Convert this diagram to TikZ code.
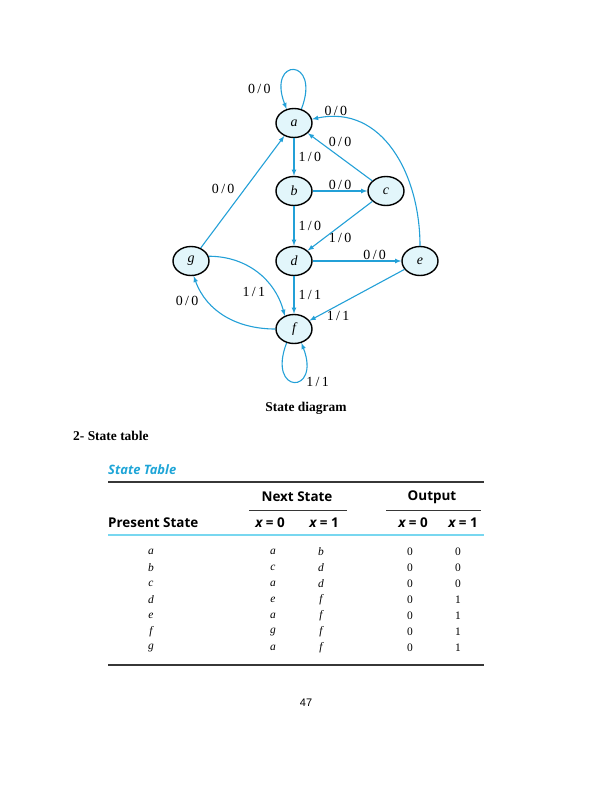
\documentclass[tikz,border=0pt]{standalone}
\usepackage{fontspec}
\setmainfont{Liberation Serif}
\setsansfont{Open Sans}
\newfontfamily\pagenumfont{Liberation Sans}
\usetikzlibrary{shapes.geometric}
\definecolor{edgeblue}{RGB}{35,160,215}
\definecolor{statefill}{RGB}{226,246,251}
\definecolor{rulegray}{RGB}{55,55,55}
\definecolor{rulecyan}{RGB}{120,215,240}
\definecolor{titleblue}{RGB}{30,165,215}

\begin{document}
\begin{tikzpicture}[x=1bp,y=1bp,>=latex]
\tikzset{
  state/.style={draw,line width=1.4bp,shape=ellipse,fill=statefill,minimum width=36bp,minimum height=29bp,inner sep=0pt,font=\fontsize{14}{16}\selectfont\itshape},
  trans/.style={->,draw=edgeblue,line width=1.1bp},
  lbl/.style={font=\fontsize{14}{16}\selectfont,text=black,inner sep=1pt},
  cell/.style={font=\fontsize{11.5}{13}\selectfont,inner sep=0pt},
  head/.style={font=\sffamily\bfseries\fontsize{13.5}{15}\selectfont,inner sep=0pt}
}
\useasboundingbox (0,0) rectangle (612,-792);
\newcommand{\io}[2]{#1\,/\,#2}

\node[state] (a) at (294,-123) {a};
\node[state] (b) at (294,-191) {b};
\node[state] (c) at (386,-191) {c};
\node[state] (d) at (294,-261) {d};
\node[state] (e) at (420,-261) {e};
\node[state] (g) at (191,-261) {g};
\node[state] (f) at (294,-329) {f};

\draw[trans] (a.62) .. controls +(20,52) and +(-20,52) .. node[lbl,left=10bp,pos=0.85]{\io00} (a.118);
\draw[trans] (e.north) to[out=90,in=12,looseness=1.1] node[lbl,above,pos=0.88]{\io00} (a.12);
\draw[trans] (c) -- node[lbl,above=9bp]{\io00} (a);
\draw[trans] (a) -- node[lbl,right=3bp]{\io10} (b);
\draw[trans] (b) -- node[lbl,above]{\io00} (c);
\draw[trans] (g) -- node[lbl,left=9bp,pos=0.53]{\io00} (a);
\draw[trans] (b) -- node[lbl,right=3bp]{\io10} (d);
\draw[trans] (c) -- node[lbl,below=6bp]{\io10} (d);
\draw[trans] (d) -- node[lbl,above,pos=0.7]{\io00} (e);
\draw[trans] (g.15) to[out=0,in=105] node[lbl,below left=2bp,pos=0.66]{\io11} (f.125);
\draw[trans] (d) -- node[lbl,right=3bp]{\io11} (f);
\draw[trans] (f.west) to[out=180,in=-70] node[lbl,left=8bp,pos=0.73]{\io00} (g.-80);
\draw[trans] (e) -- node[lbl,below=5bp,pos=0.7]{\io11} (f);
\draw[trans] (f.242) .. controls +(-20,-52) and +(20,-52) .. node[lbl,below right=1bp,pos=0.72]{\io11} (f.298);

\node[font=\bfseries\fontsize{13.5}{15}\selectfont] (caption) at (306,-408) {State diagram};
\node[anchor=west,font=\bfseries\fontsize{13.5}{15}\selectfont,inner sep=0pt] (section) at (73,-436) {2- State table};

\node[anchor=west,inner sep=0pt,text=titleblue,font=\sffamily\bfseries\itshape\fontsize{13}{15}\selectfont] (title) at (108,-470) {State Table};
\draw[rulegray,line width=2bp] (108,-482) -- (484,-482);
\node[head] (next) at (297,-497) {Next State};
\node[head] (output) at (432,-497) {Output};
\draw[rulegray,line width=0.9bp] (249,-510) -- (347,-510);
\draw[rulegray,line width=0.9bp] (386,-510) -- (481,-510);
\node[head,anchor=west] (present) at (108,-523) {Present State};
\node[head] (nx0) at (270,-523) {\itshape x\upshape\ = 0};
\node[head] (nx1) at (324,-523) {\itshape x\upshape\ = 1};
\node[head] (ox0) at (413,-523) {\itshape x\upshape\ = 0};
\node[head] (ox1) at (463,-523) {\itshape x\upshape\ = 1};
\draw[rulecyan,line width=1.5bp] (108,-535) -- (484,-535);

\foreach \s/\n/\m/\p/\q [count=\i] in {a/a/b/0/0,b/c/d/0/0,c/a/d/0/0,d/e/f/0/1,e/a/f/0/1,f/g/f/0/1,g/a/f/0/1}{
  \node[cell] (ps\i) at (151,-536-16*\i) {\itshape\s};
  \node[cell] (nz\i) at (273,-536-16*\i) {\itshape\n};
  \node[cell] (no\i) at (321,-536-16*\i) {\itshape\m};
  \node[cell] (oz\i) at (410,-536-16*\i) {\p};
  \node[cell] (oo\i) at (458,-536-16*\i) {\q};
}
\draw[rulegray,line width=2bp] (108,-665) -- (484,-665);

\node[font=\pagenumfont\fontsize{11}{13}\selectfont] (page) at (306,-703) {47};
\end{tikzpicture}
\end{document}
